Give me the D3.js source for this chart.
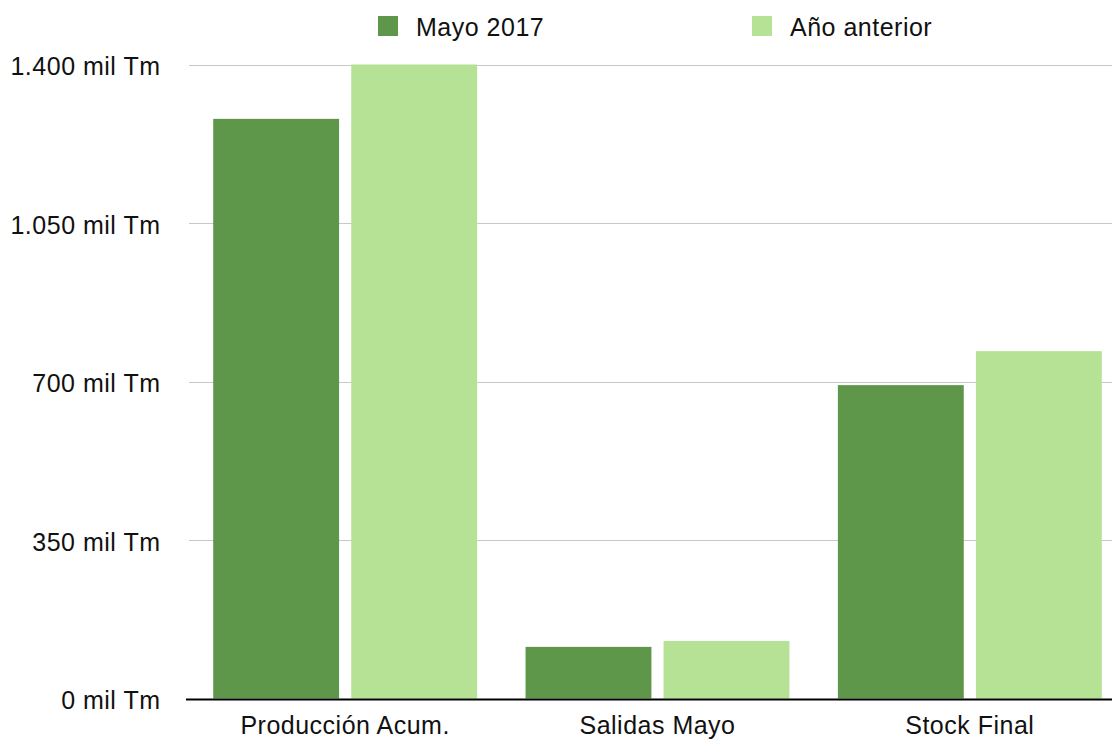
<!DOCTYPE html>
<html lang="es">
  <head>
    <meta charset="utf-8">
    <title>Producción y stock</title>
    <style>
      body { margin: 0; background: #ffffff; }
      .lbl { font-family: "Liberation Sans", Helvetica, Arial, sans-serif; font-size: 25px; letter-spacing: 0.5px; fill: #111111; }
    </style>
    <script src="https://cdn.jsdelivr.net/npm/d3@7/dist/d3.min.js"></script>
  </head>
  <body>
    <div id="chart"></div>
    <script>
      // ---------- data (mil Tm) ----------
      var categories = ["Producción Acum.", "Salidas Mayo", "Stock Final"];
      var seriesNames = ["Mayo 2017", "Año anterior"];
      var mayo2017 = [1280, 114, 692];
      var anoAnterior = [1400, 127, 767];
      var yTicks = [0, 350, 700, 1050, 1400];

      var colors = ["#5e9749", "#b5e294"];
      var width = 1112, height = 740;

      var svg = d3.select("#chart").append("svg")
        .attr("width", width)
        .attr("height", height);

      var y = d3.scaleLinear().domain([0, 1400]).range([698.5, 64.5]);

      var x0 = d3.scaleBand().domain(categories)
        .range([189, 1126])
        .paddingInner(0.155)
        .paddingOuter(0.0775);

      var x1 = d3.scaleBand().domain(seriesNames)
        .range([0, x0.bandwidth()])
        .paddingInner(0.088)
        .paddingOuter(0);

      var fmt = function (v) {
        return d3.format(",")(v).replace(/,/g, ".") + " mil Tm";
      };

      // gridlines
      svg.append("g").selectAll("line")
        .data(yTicks.filter(function (d) { return d > 0; }))
        .join("line")
        .attr("x1", 189).attr("x2", width)
        .attr("y1", function (d) { return Math.round(y(d)) + 0.5; })
        .attr("y2", function (d) { return Math.round(y(d)) + 0.5; })
        .attr("stroke", "#c8c8c8")
        .attr("stroke-width", 1);

      // tick labels
      svg.append("g").selectAll("text")
        .data(yTicks)
        .join("text")
        .attr("class", "lbl")
        .attr("x", 160.5)
        .attr("y", function (d) { return y(d); })
        .attr("dy", "0.42em")
        .attr("text-anchor", "end")
        .text(fmt);

      // bars
      var rows = categories.map(function (c, i) {
        return { cat: c, vals: [mayo2017[i], anoAnterior[i]] };
      });

      var groups = svg.append("g").selectAll("g")
        .data(rows)
        .join("g")
        .attr("transform", function (d) { return "translate(" + x0(d.cat) + ",0)"; });

      groups.selectAll("rect")
        .data(function (d) {
          return d.vals.map(function (v, j) { return { s: seriesNames[j], v: v, j: j }; });
        })
        .join("rect")
        .attr("x", function (d) { return x1(d.s); })
        .attr("width", x1.bandwidth())
        .attr("y", function (d) { return y(d.v); })
        .attr("height", function (d) { return y(0) - y(d.v); })
        .attr("fill", function (d) { return colors[d.j]; });

      // x axis line
      svg.append("line")
        .attr("x1", 186).attr("x2", width)
        .attr("y1", 699.5).attr("y2", 699.5)
        .attr("stroke", "#000000")
        .attr("stroke-width", 2);

      // category labels
      svg.append("g").selectAll("text")
        .data(categories)
        .join("text")
        .attr("class", "lbl")
        .attr("x", function (d) { return x0(d) + x0.bandwidth() / 2; })
        .attr("y", 734)
        .attr("text-anchor", "middle")
        .text(function (d) { return d; });

      // legend
      var legendX = [378, 752];
      var legend = svg.append("g").selectAll("g")
        .data(seriesNames)
        .join("g")
        .attr("transform", function (d, i) { return "translate(" + legendX[i] + ",16)"; });

      legend.append("rect")
        .attr("width", 20).attr("height", 20)
        .attr("fill", function (d, i) { return colors[i]; });

      legend.append("text")
        .attr("class", "lbl")
        .attr("x", 38)
        .attr("y", 19.7)
        .text(function (d) { return d; });
    </script>
  </body>
</html>
